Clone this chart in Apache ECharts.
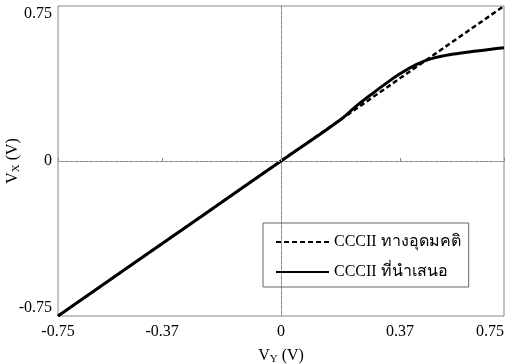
<!DOCTYPE html>
<html><head><meta charset="utf-8">
<script src="https://cdn.jsdelivr.net/npm/echarts@6/dist/echarts.min.js"></script>
<style>html,body{margin:0;padding:0;background:#fff}#c{width:507px;height:364px}</style>
</head><body><div id="c"></div>
<script>
const seriesNames = ['CCCII ทางอุดมคติ', 'CCCII ที่นำเสนอ'];
const idealX = [-0.75, 0.75];
const idealY = [-0.75, 0.75];
const propX = [-0.75, -0.5, -0.25, 0, 0.2, 0.25, 0.3, 0.35, 0.4, 0.45, 0.5, 0.55, 0.6, 0.65, 0.7, 0.75];
const propY = [-0.75, -0.5, -0.25, 0, 0.2, 0.262, 0.318, 0.372, 0.422, 0.463, 0.493, 0.51, 0.521, 0.531, 0.54, 0.548];
const xTickValues = [-0.75, -0.4, 0, 0.4, 0.75];
const xTickLabels = ['-0.75', '-0.37', '0', '0.37', '0.75'];
const yTickLabels = {'-0.75': '-0.75', '0': '0', '0.75': '0.75'};

const FONT = '"Liberation Serif", "Times New Roman", serif';
const zip = (a, b) => a.map((v, i) => [v, b[i]]);
const chart = echarts.init(document.getElementById('c'));
chart.setOption({
  animation: false,
  textStyle: {fontFamily: FONT, color: '#000'},
  grid: {left: 58, right: 3, top: 6, bottom: 48, show: true, borderColor: '#888', borderWidth: 1, containLabel: false, outerBoundsMode: 'none'},
  legend: {
    left: 263, top: 223, orient: 'vertical',
    borderColor: '#666', borderWidth: 1,
    padding: [9, 8, 5, 12],
    itemWidth: 53, itemHeight: 20, itemGap: 10,
    itemStyle: {opacity: 0},
    textStyle: {fontFamily: FONT, fontSize: 16, color: '#000', lineHeight: 20},
    data: seriesNames
  },
  xAxis: {
    type: 'value', min: -0.75, max: 0.75,
    axisLine: {show: true, lineStyle: {color: '#888'}},
    axisTick: {show: true, inside: true, length: 3, customValues: xTickValues, lineStyle: {color: '#888'}},
    splitLine: {show: false},
    axisLabel: {
      customValues: xTickValues, fontFamily: FONT, fontSize: 16, color: '#000', margin: 8,
      alignMaxLabel: 'right',
      formatter: v => xTickLabels[xTickValues.findIndex(t => Math.abs(t - v) < 1e-9)]
    },
    name: 'V{s|Y} (V)', nameLocation: 'middle', nameGap: 30, nameMoveOverlap: false,
    nameTextStyle: {fontFamily: FONT, fontSize: 16, color: '#000', rich: {s: {fontFamily: FONT, fontSize: 11, color: '#000', padding: [8, 0, 0, 0]}}}
  },
  yAxis: {
    type: 'value', min: -0.75, max: 0.75, interval: 0.75,
    axisLine: {show: true, lineStyle: {color: '#888'}},
    axisTick: {show: false},
    splitLine: {show: false},
    axisLabel: {
      fontFamily: FONT, fontSize: 16, color: '#000', margin: 6,
      verticalAlignMaxLabel: 'top', verticalAlignMinLabel: 'bottom',
      formatter: v => yTickLabels[String(Math.round(v * 100) / 100)]
    },
    name: 'V{s|X} (V)', nameLocation: 'middle', nameGap: 36, nameRotate: 90, nameMoveOverlap: false,
    nameTextStyle: {fontFamily: FONT, fontSize: 16, color: '#000', rich: {s: {fontFamily: FONT, fontSize: 11, color: '#000', padding: [8, 0, 0, 0]}}}
  },
  series: [
    {
      name: seriesNames[0], type: 'line', symbol: 'none', data: zip(idealX, idealY),
      lineStyle: {color: '#000', width: 2.5, type: [5, 3]}, itemStyle: {color: '#000'}, z: 3,
      markLine: {
        silent: true, symbol: 'none', label: {show: false},
        lineStyle: {color: '#aaa', type: [2, 3], width: 1},
        data: [{xAxis: 0}, {yAxis: 0}]
      }
    },
    {
      name: seriesNames[1], type: 'line', symbol: 'none', smooth: true, data: zip(propX, propY),
      lineStyle: {color: '#000', width: 3}, itemStyle: {color: '#000'}, z: 2
    }
  ]
});
</script></body></html>
